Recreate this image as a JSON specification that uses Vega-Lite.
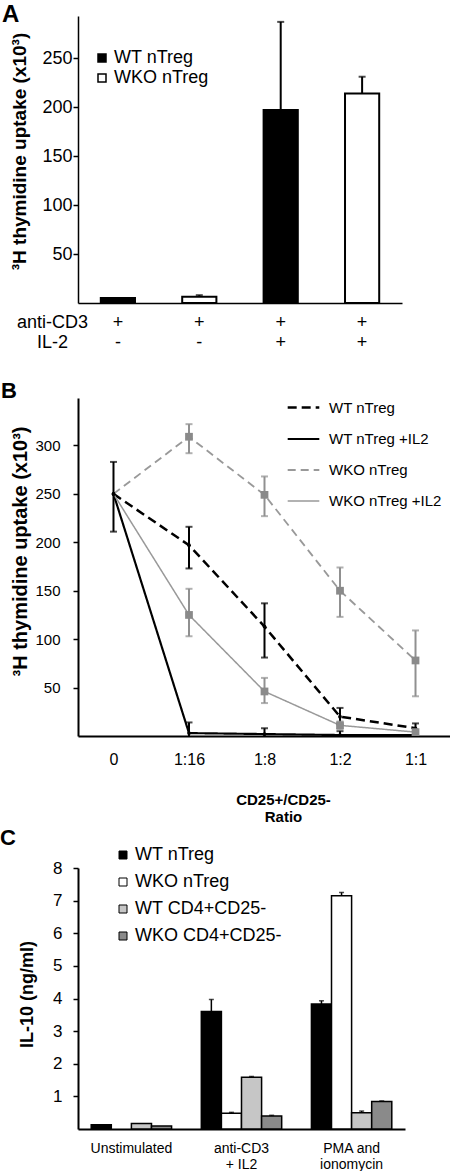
{
  "$schema": "https://vega.github.io/schema/vega-lite/v6.json",
  "padding": {"top": 3, "left": 0, "right": 0, "bottom": 0},
  "config": {
    "font": "Liberation Sans",
    "view": {"stroke": null},
    "axis": {"grid": false, "domainColor": "black", "domainWidth": 1.5, "tickColor": "black", "tickWidth": 1.5, "labelColor": "black", "titleColor": "black", "labelFont": "Liberation Sans", "titleFont": "Liberation Sans", "labelOverlap": false},
    "legend": {"labelFont": "Liberation Sans", "labelColor": "black", "padding": 0},
    "title": {"font": "Liberation Sans", "color": "black", "fontWeight": "bold"}
  },
  "bounds": "flush",
  "spacing": 0,
  "resolve": {
    "scale": {"x": "independent", "y": "independent", "fill": "independent", "color": "independent", "strokeDash": "independent", "strokeWidth": "independent", "xOffset": "independent"},
    "legend": {"fill": "independent", "color": "independent", "strokeDash": "independent", "strokeWidth": "independent"}
  },
  "vconcat": [
    {
      "width": 324,
      "height": 287,
      "title": {"text": "A", "anchor": "start", "frame": "group", "dx": -76, "dy": 30, "offset": 0, "baseline": "alphabetic", "fontSize": 24},
      "data": {"values": [
        {"cond": "1", "strain": "WT nTreg", "value": 5, "upper": null},
        {"cond": "2", "strain": "WKO nTreg", "value": 6.5, "upper": 8},
        {"cond": "3", "strain": "WT nTreg", "value": 197, "upper": 287},
        {"cond": "4", "strain": "WKO nTreg", "value": 214, "upper": 231}
      ]},
      "encoding": {
        "x": {"field": "cond", "type": "nominal", "sort": null,
          "scale": {"paddingInner": 0.58, "paddingOuter": 0.28},
          "axis": {"title": ["anti-CD3", "IL-2"], "titleFontWeight": "normal", "titleFontSize": 18, "titleX": -26, "titleY": 10, "titleAlign": "center", "titleBaseline": "top", "titleAngle": 0, "titleLineHeight": 20,
            "labelExpr": "datum.value == '1' || datum.value == '2' ? ['+', '-'] : ['+', '+']", "labelFontSize": 18, "labelLineHeight": 20, "labelPadding": 10, "ticks": false, "tickSize": 0, "labelAngle": 0}}
      },
      "layer": [
        {
          "mark": {"type": "bar", "stroke": "black", "strokeWidth": 2},
          "encoding": {
            "y": {"field": "value", "type": "quantitative", "scale": {"domain": [0, 293], "nice": false},
              "axis": {"title": "³H thymidine uptake (x10³)", "titleFontSize": 19, "titleFontWeight": "bold", "titleX": -59, "titleY": 135, "titleBaseline": "middle", "titleAlign": "center", "titleAngle": 270,
                "values": [50, 100, 150, 200, 250], "tickCount": 10, "tickSize": 5, "labelFontSize": 18, "labelPadding": 1}},
            "fill": {"field": "strain", "type": "nominal", "scale": {"domain": ["WT nTreg", "WKO nTreg"], "range": ["black", "white"]},
              "legend": {"title": null, "orient": "none", "legendX": 15, "legendY": 33, "symbolType": "square", "symbolSize": 64, "symbolStrokeColor": "black", "symbolStrokeWidth": 1.5, "labelFontSize": 18, "labelOffset": 3, "rowPadding": 2}}
          }
        },
        {
          "transform": [{"filter": "datum.upper != null"}],
          "mark": {"type": "rule", "strokeWidth": 2, "color": "black"},
          "encoding": {"y": {"field": "value", "type": "quantitative"}, "y2": {"field": "upper"}}
        },
        {
          "transform": [{"filter": "datum.upper != null"}],
          "mark": {"type": "tick", "orient": "horizontal", "size": 7, "thickness": 2, "color": "black"},
          "encoding": {"y": {"field": "upper", "type": "quantitative"}}
        }
      ]
    },
    {
      "width": 1,
      "height": 95,
      "data": {"values": [{"gap": 1}]},
      "mark": {"type": "text", "text": ""},
      "encoding": {}
    },
    {
      "width": 373,
      "height": 338,
      "title": {"text": "B", "anchor": "start", "frame": "group", "dx": -77, "dy": 30, "offset": 0, "baseline": "alphabetic", "fontSize": 22},
      "data": {"values": [
        {"ratio": "0", "series": "WT nTreg", "value": 250, "lo": 211, "hi": 283},
        {"ratio": "0", "series": "WT nTreg +IL2", "value": 250, "lo": null, "hi": null},
        {"ratio": "0", "series": "WKO nTreg", "value": 250, "lo": null, "hi": null},
        {"ratio": "0", "series": "WKO nTreg +IL2", "value": 250, "lo": null, "hi": null},
        {"ratio": "1:16", "series": "WT nTreg", "value": 197, "lo": 173, "hi": 216},
        {"ratio": "1:16", "series": "WT nTreg +IL2", "value": 3, "lo": 0, "hi": 14},
        {"ratio": "1:16", "series": "WKO nTreg", "value": 309, "lo": 292, "hi": 322},
        {"ratio": "1:16", "series": "WKO nTreg +IL2", "value": 125, "lo": 103, "hi": 152},
        {"ratio": "1:8", "series": "WT nTreg", "value": 113, "lo": 81, "hi": 137},
        {"ratio": "1:8", "series": "WT nTreg +IL2", "value": 2, "lo": 0, "hi": 8},
        {"ratio": "1:8", "series": "WKO nTreg", "value": 249, "lo": 227, "hi": 268},
        {"ratio": "1:8", "series": "WKO nTreg +IL2", "value": 46, "lo": 34, "hi": 60},
        {"ratio": "1:2", "series": "WT nTreg", "value": 20, "lo": 12, "hi": 29},
        {"ratio": "1:2", "series": "WT nTreg +IL2", "value": 1, "lo": 0, "hi": 5},
        {"ratio": "1:2", "series": "WKO nTreg", "value": 150, "lo": 123, "hi": 174},
        {"ratio": "1:2", "series": "WKO nTreg +IL2", "value": 11, "lo": 7, "hi": 15},
        {"ratio": "1:1", "series": "WT nTreg", "value": 8, "lo": 3, "hi": 13},
        {"ratio": "1:1", "series": "WT nTreg +IL2", "value": 1, "lo": 0, "hi": 4},
        {"ratio": "1:1", "series": "WKO nTreg", "value": 78, "lo": 41, "hi": 109},
        {"ratio": "1:1", "series": "WKO nTreg +IL2", "value": 4, "lo": 1, "hi": 6}
      ]},
      "encoding": {
        "x": {"field": "ratio", "type": "ordinal", "scale": {"type": "point", "domain": ["0", "1:16", "1:8", "1:2", "1:1"], "padding": 0.47},
          "axis": {"title": ["CD25+/CD25-", "Ratio"], "titleFontSize": 15, "titleFontWeight": "bold", "titleLineHeight": 17, "titleX": 205, "titleY": 56, "titleAlign": "center", "titleBaseline": "top", "titleAngle": 0,
            "labelFontSize": 16, "labelPadding": 15, "ticks": false, "tickSize": 0, "labelAngle": 0, "domainWidth": 2}}
      },
      "layer": [
        {
          "mark": {"type": "line"},
          "encoding": {
            "y": {"field": "value", "type": "quantitative", "scale": {"domain": [0, 349], "nice": false},
              "axis": {"title": "³H thymidine uptake (x10³)", "titleFontSize": 20, "titleFontWeight": "bold", "titleX": -58, "titleY": 153, "titleBaseline": "middle", "titleAlign": "center", "titleAngle": 270,
                "values": [50, 100, 150, 200, 250, 300], "tickCount": 10, "tickSize": 5, "labelFontSize": 15, "labelPadding": 13, "domainWidth": 2}},
            "color": {"field": "series", "type": "nominal", "scale": {"domain": ["WT nTreg", "WT nTreg +IL2", "WKO nTreg", "WKO nTreg +IL2"], "range": ["black", "black", "#999999", "#999999"]},
              "legend": {"title": null, "orient": "none", "legendX": 208, "legendY": -8, "symbolType": "stroke", "symbolSize": 1000, "labelFontSize": 15, "labelOffset": 8, "rowPadding": 6}},
            "strokeDash": {"field": "series", "type": "nominal", "scale": {"domain": ["WT nTreg", "WT nTreg +IL2", "WKO nTreg", "WKO nTreg +IL2"], "range": [[9, 5], [1, 0], [8, 5], [1, 0]]},
              "legend": {"title": null, "orient": "none", "legendX": 208, "legendY": -8, "symbolType": "stroke", "symbolSize": 1000, "labelFontSize": 15, "labelOffset": 8, "rowPadding": 6}},
            "strokeWidth": {"field": "series", "type": "nominal", "scale": {"domain": ["WT nTreg", "WT nTreg +IL2", "WKO nTreg", "WKO nTreg +IL2"], "range": [2.5, 1.5, 2, 2]},
              "legend": {"title": null, "orient": "none", "legendX": 208, "legendY": -8, "symbolType": "stroke", "symbolSize": 1000, "labelFontSize": 15, "labelOffset": 8, "rowPadding": 6}}
          }
        },
        {
          "transform": [{"filter": "datum.hi != null"}, {"filter": "test(/^WT/, datum.series)"}],
          "mark": {"type": "rule", "strokeWidth": 2, "color": "black"},
          "encoding": {"y": {"field": "lo", "type": "quantitative"}, "y2": {"field": "hi"}}
        },
        {
          "transform": [{"filter": "datum.hi != null"}, {"filter": "test(/^WKO/, datum.series)"}],
          "mark": {"type": "rule", "strokeWidth": 2, "color": "#909090"},
          "encoding": {"y": {"field": "lo", "type": "quantitative"}, "y2": {"field": "hi"}}
        },
        {
          "transform": [{"filter": "datum.hi != null"}, {"filter": "test(/^WT/, datum.series)"}],
          "mark": {"type": "tick", "orient": "horizontal", "size": 7, "thickness": 2, "color": "black"},
          "encoding": {"y": {"field": "hi", "type": "quantitative"}}
        },
        {
          "transform": [{"filter": "datum.hi != null"}, {"filter": "test(/^WKO/, datum.series)"}],
          "mark": {"type": "tick", "orient": "horizontal", "size": 7, "thickness": 2, "color": "#909090"},
          "encoding": {"y": {"field": "hi", "type": "quantitative"}}
        },
        {
          "transform": [{"filter": "datum.hi != null && datum.lo > 0"}, {"filter": "test(/^WT/, datum.series)"}],
          "mark": {"type": "tick", "orient": "horizontal", "size": 7, "thickness": 2, "color": "black"},
          "encoding": {"y": {"field": "lo", "type": "quantitative"}}
        },
        {
          "transform": [{"filter": "datum.hi != null"}, {"filter": "test(/^WKO/, datum.series)"}],
          "mark": {"type": "tick", "orient": "horizontal", "size": 7, "thickness": 2, "color": "#909090"},
          "encoding": {"y": {"field": "lo", "type": "quantitative"}}
        },
        {
          "transform": [{"filter": "test(/^WT/, datum.series)"}],
          "mark": {"type": "point", "shape": "circle", "filled": true, "size": 14, "color": "black", "opacity": 1},
          "encoding": {"y": {"field": "value", "type": "quantitative"}}
        },
        {
          "transform": [{"filter": "test(/^WKO/, datum.series) && datum.ratio != '0'"}],
          "mark": {"type": "point", "shape": "square", "filled": true, "size": 60, "color": "#8a8a8a", "opacity": 1},
          "encoding": {"y": {"field": "value", "type": "quantitative"}}
        }
      ]
    },
    {
      "width": 1,
      "height": 132,
      "data": {"values": [{"gap": 1}]},
      "mark": {"type": "text", "text": ""},
      "encoding": {}
    },
    {
      "width": 327,
      "height": 261,
      "title": {"text": "C", "anchor": "start", "frame": "group", "dx": -78, "dy": 21, "offset": 0, "baseline": "alphabetic", "fontSize": 22},
      "data": {"values": [
        {"stim": "Unstimulated", "cell": "WT nTreg", "value": 0.13, "upper": null},
        {"stim": "Unstimulated", "cell": "WT CD4+CD25-", "value": 0.17, "upper": null},
        {"stim": "Unstimulated", "cell": "WKO CD4+CD25-", "value": 0.09, "upper": null},
        {"stim": "anti-CD3 + IL2", "cell": "WT nTreg", "value": 3.6, "upper": 3.97},
        {"stim": "anti-CD3 + IL2", "cell": "WKO nTreg", "value": 0.48, "upper": 0.51},
        {"stim": "anti-CD3 + IL2", "cell": "WT CD4+CD25-", "value": 1.59, "upper": 1.61},
        {"stim": "anti-CD3 + IL2", "cell": "WKO CD4+CD25-", "value": 0.4, "upper": 0.42},
        {"stim": "PMA and ionomycin", "cell": "WT nTreg", "value": 3.83, "upper": 3.93},
        {"stim": "PMA and ionomycin", "cell": "WKO nTreg", "value": 7.15, "upper": 7.25},
        {"stim": "PMA and ionomycin", "cell": "WT CD4+CD25-", "value": 0.5, "upper": 0.55},
        {"stim": "PMA and ionomycin", "cell": "WKO CD4+CD25-", "value": 0.84, "upper": 0.86}
      ]},
      "encoding": {
        "x": {"field": "stim", "type": "nominal", "sort": ["Unstimulated", "anti-CD3 + IL2", "PMA and ionomycin"],
          "scale": {"paddingInner": 0.27, "paddingOuter": 0.12},
          "axis": {"title": null, "labelExpr": "datum.value == 'anti-CD3 + IL2' ? ['anti-CD3', '+ IL2'] : datum.value == 'PMA and ionomycin' ? ['PMA and', 'ionomycin'] : datum.label",
            "labelFontSize": 14, "labelLineHeight": 16, "labelPadding": 12, "ticks": false, "tickSize": 0, "labelAngle": 0, "domainWidth": 2}},
        "xOffset": {"field": "cell", "type": "nominal", "scale": {"domain": ["WT nTreg", "WKO nTreg", "WT CD4+CD25-", "WKO CD4+CD25-"], "paddingInner": 0, "paddingOuter": 0}}
      },
      "layer": [
        {
          "mark": {"type": "bar", "stroke": "black", "strokeWidth": 1.5},
          "encoding": {
            "y": {"field": "value", "type": "quantitative", "scale": {"domain": [0, 8], "nice": false},
              "axis": {"title": "IL-10  (ng/ml)", "titleFontSize": 18, "titleFontWeight": "bold", "titleX": -51, "titleY": 126, "titleBaseline": "middle", "titleAlign": "center", "titleAngle": 270,
                "values": [1, 2, 3, 4, 5, 6, 7, 8], "tickCount": 10, "labelOverlap": false, "tickSize": 5, "labelFontSize": 17, "labelPadding": 11, "domainWidth": 2}},
            "fill": {"field": "cell", "type": "nominal", "scale": {"domain": ["WT nTreg", "WKO nTreg", "WT CD4+CD25-", "WKO CD4+CD25-"], "range": ["black", "white", "#c6c6c6", "#8a8a8a"]},
              "legend": {"title": null, "orient": "none", "legendX": 36, "legendY": -22, "symbolType": "square", "symbolSize": 64, "symbolStrokeColor": "black", "symbolStrokeWidth": 1, "labelFontSize": 18, "labelOffset": 3, "rowPadding": 9}}
          }
        },
        {
          "transform": [{"filter": "datum.upper != null"}],
          "mark": {"type": "rule", "strokeWidth": 1.5, "color": "black"},
          "encoding": {"y": {"field": "value", "type": "quantitative"}, "y2": {"field": "upper"}}
        },
        {
          "transform": [{"filter": "datum.upper != null"}],
          "mark": {"type": "tick", "orient": "horizontal", "size": 5, "thickness": 1.5, "color": "black"},
          "encoding": {"y": {"field": "upper", "type": "quantitative"}}
        }
      ]
    }
  ]
}
